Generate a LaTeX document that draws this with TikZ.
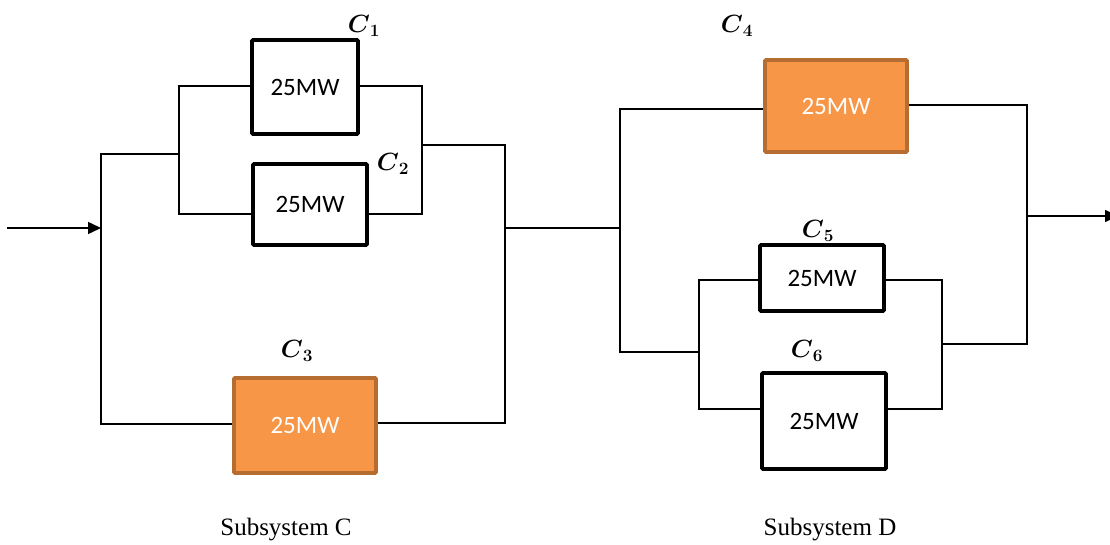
\documentclass[tikz,border=0pt]{standalone}
\usepackage{amsmath}
\usepackage{fontspec}
\newfontfamily\boxfont{Carlito}
\newfontfamily\capfont{Liberation Serif}
\usetikzlibrary{arrows.meta}
\definecolor{unitorange}{HTML}{F79646}
\definecolor{unitedge}{HTML}{B66D31}
\tikzset{
  wire/.style={line width=1.6pt, black},
  flow/.style={wire, -{Triangle[length=13pt,width=12pt]}},
  unit/.style={draw=black, line width=3.8pt, fill=white, rounded corners=1pt,
    inner sep=0pt, font=\boxfont\fontsize{25}{29}\selectfont, text=black},
  hotunit/.style={unit, draw=unitedge, fill=unitorange, text=white},
  tag/.style={inner sep=0pt, font=\fontsize{24}{27}\selectfont},
  caption/.style={inner sep=0pt, font=\capfont\fontsize{25}{28}\selectfont}
}
\begin{document}
\begin{tikzpicture}[x=1pt,y=-1pt]
\useasboundingbox (0,0) rectangle (1110,545);

% components
\node[unit, minimum width=106pt, minimum height=94pt] (c1) at (305,87) {25MW};
\node[unit, minimum width=114pt, minimum height=81pt] (c2) at (310,204.5) {25MW};
\node[hotunit, minimum width=142pt, minimum height=95pt] (c3) at (305,425.5) {25MW};
\node[hotunit, minimum width=142pt, minimum height=92pt] (c4) at (836,106) {25MW};
\node[unit, minimum width=124pt, minimum height=66pt] (c5) at (822,278) {25MW};
\node[unit, minimum width=124pt, minimum height=96pt] (c6) at (824,421) {25MW};

% component tags
\node[tag] (t1) at (364,26) {$\boldsymbol{C}_{\boldsymbol{1}}$};
\node[tag] (t2) at (393,164) {$\boldsymbol{C}_{\boldsymbol{2}}$};
\node[tag] (t3) at (297,351) {$\boldsymbol{C}_{\boldsymbol{3}}$};
\node[tag] (t4) at (737,26) {$\boldsymbol{C}_{\boldsymbol{4}}$};
\node[tag] (t5) at (818,231) {$\boldsymbol{C}_{\boldsymbol{5}}$};
\node[tag] (t6) at (807,351) {$\boldsymbol{C}_{\boldsymbol{6}}$};

% junction points
\coordinate (in) at (7,228);
\coordinate (cL) at (101,228);
\coordinate (cTop) at (101,154);
\coordinate (pL) at (179,154);
\coordinate (pR) at (422,145);
\coordinate (cR) at (505,228);
\coordinate (dL) at (620,228);
\coordinate (qL) at (699,352);
\coordinate (qR) at (942,344);
\coordinate (dR) at (1027,216);
\coordinate (out) at (1118,216);

% subsystem C
\draw[flow] (in) -- (cL);
\draw[wire] (c1.west |- 0,86) -| (pL |- 0,214) -- (c2.west |- 0,214);
\draw[wire] (pL) -- (cTop) |- (c3.west |- 0,424);
\draw[wire] (c1.east |- 0,86) -| (pR |- 0,214) -- (c2.east |- 0,214);
\draw[wire] (pR) -| (cR |- 0,423) -- (c3.east |- 0,423);

% link between subsystems
\draw[wire] (cR) -- (dL);

% subsystem D
\draw[wire] (c4.west |- 0,109) -| (dL |- 0,352) -- (qL);
\draw[wire] (c5.west |- 0,280) -| (qL |- 0,409) -- (c6.west |- 0,409);
\draw[wire] (c5.east |- 0,280) -| (qR |- 0,409) -- (c6.east |- 0,409);
\draw[wire] (qR) -| (dR |- 0,105) -- (c4.east |- 0,105);
\draw[flow] (dR) -- (out);

% captions
\node[caption] (capC) at (286,530) {Subsystem C};
\node[caption] (capD) at (830,530) {Subsystem D};
\end{tikzpicture}
\end{document}
